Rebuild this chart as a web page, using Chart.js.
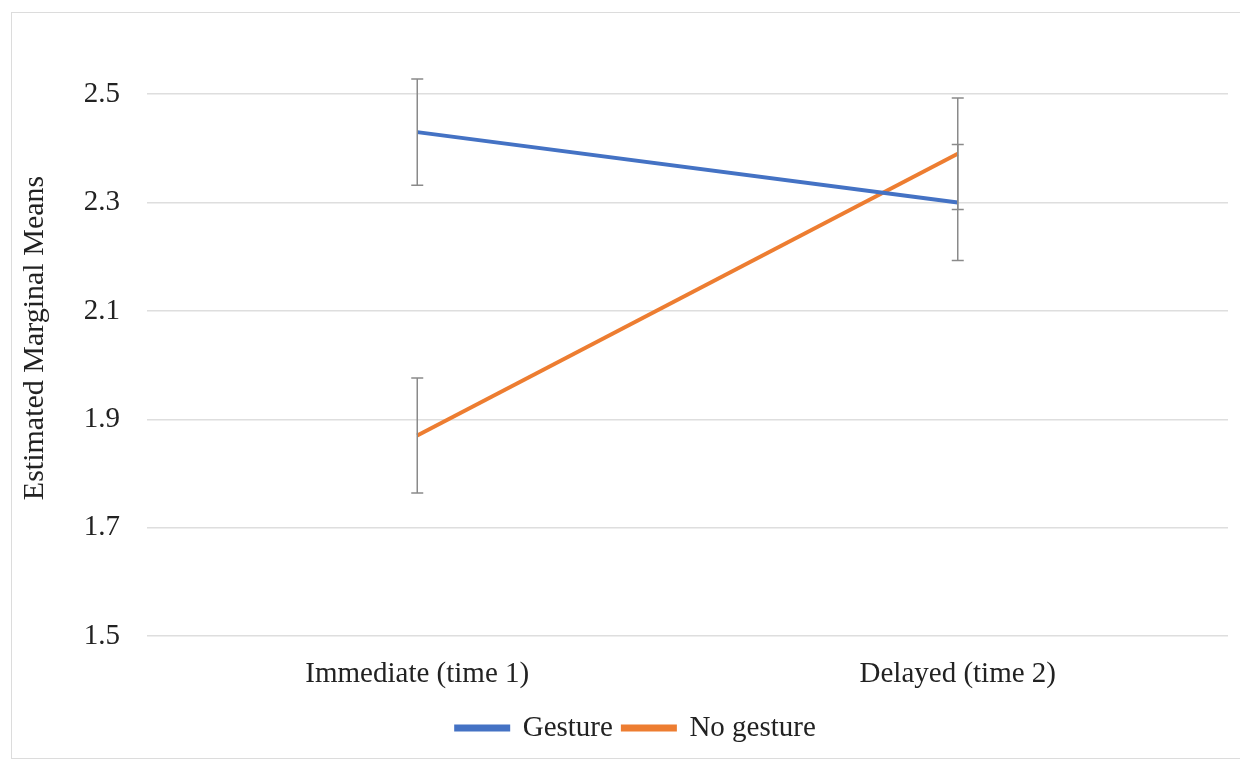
<!DOCTYPE html>
<html lang="en">
<head>
  <meta charset="UTF-8" />
  <title>Estimated Marginal Means</title>
  <script src="https://cdn.jsdelivr.net/npm/chart.js"></script>
  <style>
    html, body { margin: 0; padding: 0; background: #fff; }
    #wrap { position: relative; width: 1240px; height: 759px; overflow: hidden; }
    #frame { position: absolute; left: 11px; top: 12px; width: 1260px; height: 745px; border: 1px solid #dcdcdc; }
    #chart { position: absolute; left: 0; top: 0; }
  </style>
</head>
<body>
<div id="wrap">
  <div id="frame"></div>
  <canvas id="chart" width="1240" height="759"></canvas>
</div>

<script>
  const categories = ['Immediate (time 1)', 'Delayed (time 2)'];
  const gesture = [2.43, 2.30];
  const gestureErr = [0.098, 0.107];
  const noGesture = [1.87, 2.39];
  const noGestureErr = [0.106, 0.103];
  const yTicks = [1.5, 1.7, 1.9, 2.1, 2.3, 2.5];

  const serif = 'Liberation Serif, Times New Roman, serif';

  // whiskers drawn from the y scale
  const errorBars = {
    id: 'errorBars',
    afterDatasetsDraw(chart) {
      const { ctx, scales: { x, y } } = chart;
      ctx.save();
      ctx.strokeStyle = '#8a8a8a';
      ctx.lineWidth = 1.5;
      chart.data.datasets.forEach(ds => {
        ds.errors.forEach((e, j) => {
          const px = x.getPixelForValue(j);
          const hi = y.getPixelForValue(ds.data[j] + e);
          const lo = y.getPixelForValue(ds.data[j] - e);
          ctx.beginPath();
          ctx.moveTo(px, hi); ctx.lineTo(px, lo);
          ctx.moveTo(px - 6, hi); ctx.lineTo(px + 6, hi);
          ctx.moveTo(px - 6, lo); ctx.lineTo(px + 6, lo);
          ctx.stroke();
        });
      });
      ctx.restore();
    }
  };

  // legend sits a little right of the canvas centre in the original
  const legendNudge = {
    id: 'legendNudge',
    afterLayout(chart) {
      chart.legend.left += 22;
      chart.legend.right += 22;
    }
  };

  new Chart(document.getElementById('chart'), {
    type: 'line',
    data: {
      labels: categories,
      datasets: [
        { label: 'Gesture', data: gesture, errors: gestureErr,
          borderColor: '#4472C4', backgroundColor: '#4472C4', borderWidth: 4, pointRadius: 0 },
        { label: 'No gesture', data: noGesture, errors: noGestureErr,
          borderColor: '#ED7D31', backgroundColor: '#ED7D31', borderWidth: 4, pointRadius: 0 }
      ]
    },
    options: {
      responsive: false,
      animation: false,
      layout: { padding: { left: 0, right: 12, top: 40, bottom: 6.5 } },
      plugins: {
        tooltip: { enabled: false },
        legend: {
          position: 'bottom',
          labels: {
            font: { family: serif, size: 29 },
            color: '#222',
            boxWidth: 52,
            boxHeight: 3,
            padding: 10
          }
        }
      },
      scales: {
        x: {
          offset: true,
          grid: { display: false },
          border: { display: false },
          ticks: { font: { family: serif, size: 29 }, color: '#222', padding: 13, maxRotation: 0 },
          afterFit: s => { s.height = 67.5; }
        },
        y: {
          min: 1.5,
          max: 2.6,
          afterBuildTicks: s => { s.ticks = yTicks.map(v => ({ value: v })); },
          grid: { color: '#dedede', lineWidth: 1.5, drawTicks: false },
          border: { display: false },
          ticks: { font: { family: serif, size: 29 }, color: '#222', padding: 27,
                   callback: v => v.toFixed(1) },
          title: { display: true, text: 'Estimated Marginal Means',
                   font: { family: serif, size: 30 }, color: '#222', padding: { top: 17, bottom: 0 } },
          afterFit: s => { s.width = 147; s.paddingTop = 0; s.paddingBottom = 0; }
        }
      }
    },
    plugins: [errorBars, legendNudge]
  });
</script>
</body>
</html>
